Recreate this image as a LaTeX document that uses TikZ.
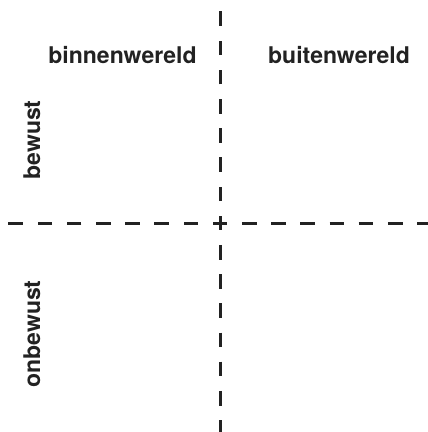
\documentclass[tikz,border=0pt]{standalone}
\usepackage{fontspec}
\setmainfont{TeX Gyre Heros}
\definecolor{ink}{HTML}{222222}

\begin{document}
\begin{tikzpicture}[x=1pt,y=-1pt]
    \tikzstyle{every node}=[inner sep=0pt,text=ink,font=\fontsize{23}{27}\selectfont\bfseries];
    \tikzstyle{axis}=[draw=ink,line width=3pt,dash pattern=on 14.6pt off 14.6pt,dash phase=7.3pt];

    \useasboundingbox (0, 0) rectangle (428, 432);

    \coordinate (o) at (220, 223);
    \coordinate (top) at (220, 0);
    \coordinate (bot) at (220, 432);
    \coordinate (west) at (0, 223);
    \coordinate (east) at (428, 223);

    \node at (122.5, 63) (binnen) [anchor=base] {binnenwereld};
    \node at (339, 63) (buiten) [anchor=base] {buitenwereld};
    \node at (40, 140) (bewust) [anchor=base,rotate=90] {bewust};
    \node at (40, 334) (onbewust) [anchor=base,rotate=90] {onbewust};

    \draw[axis] (o) -- (top);
    \draw[axis] (o) -- (bot);
    \draw[axis] (o) -- (west);
    \draw[axis] (o) -- (east);
\end{tikzpicture}
\end{document}
